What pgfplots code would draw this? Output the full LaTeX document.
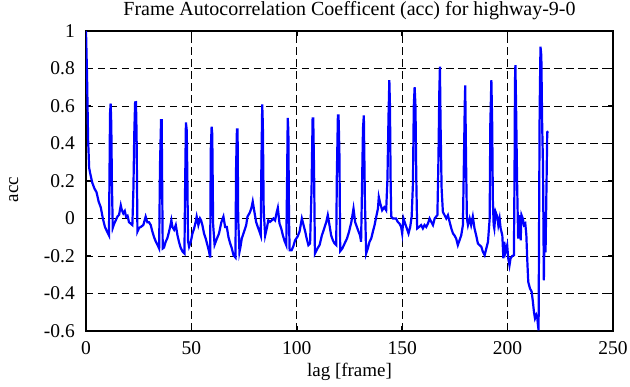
\documentclass[border=0pt]{standalone}
\usepackage{pgfplots}
\pgfplotsset{compat=1.18}
\usepackage{fontspec}
\setmainfont{Liberation Serif}
\begin{document}
\begin{tikzpicture}
\path[use as bounding box] (-86pt,-56pt) rectangle (544pt,331pt);
\begin{axis}[
  at={(0pt,0pt)}, anchor=south west,
  scale only axis, width=527pt, height=300pt,
  xmin=0, xmax=250, ymin=-0.6, ymax=1,
  xtick={0,50,100,150,200,250},
  xticklabels={0,50,100,150,200,250},
  ytick={-0.6,-0.4,-0.2,0,0.2,0.4,0.6,0.8,1},
  yticklabels={-0.6,-0.4,-0.2,0,0.2,0.4,0.6,0.8,1},
  grid=major,
  major grid style={black, line width=0.9pt, dash pattern=on 7.5pt off 4.5pt},
  tick align=inside, major tick length=5pt,
  tick style={black, line width=1.5pt},
  axis line style={black, line width=2.2pt},
  xticklabel style={font=\fontsize{19.5}{21}\selectfont, inner sep=0pt, anchor=base, yshift=-24pt},
  yticklabel style={font=\fontsize{19.5}{21}\selectfont, inner sep=0pt, anchor=east, xshift=-11pt},
  every axis title shift=0pt,
  title={Frame Autocorrelation Coefficent (acc) for highway-9-0},
  title style={font=\fontsize{20}{22}\selectfont, inner sep=0pt, anchor=base, at={(axis description cs:0.5,1)}, yshift=15pt},
  xlabel={lag [frame]},
  xlabel style={font=\fontsize{19}{21}\selectfont, inner sep=0pt, anchor=base, at={(axis description cs:0.5,0)}, yshift=-46pt},
  ylabel={acc},
  ylabel style={font=\fontsize{19}{21}\selectfont, inner sep=0pt, anchor=base, at={(axis description cs:-0.129,0.472)}},
]
\addplot[color={rgb,255:red,0;green,0;blue,255}, line width=2.2pt, mark=none] coordinates {
(0,1.0)(0.5,0.76)(1,0.42)(1.5,0.27)(2,0.24)(3,0.19)(4,0.16)(5,0.14)(6,0.09)(7,0.06)(8,0.0)(9,-0.045)(10,-0.07)(10.9,-0.09)
(11.4,0.56)(11.7,0.613)(12,0.5)(12.3,0.18)(12.7,-0.05)
(13.3,-0.03)(14.1,-0.01)(14.9,0.01)(15.7,0.02)(16.5,0.07)(17,0.045)(17.7,0.027)(18.4,0.04)(19,0.01)(19.7,0.015)(20.4,-0.02)(21.2,-0.027)(22,-0.035)
(22.5,0.16)(22.9,0.45)(23.3,0.619)(23.7,0.62)(24,0.45)(24.4,-0.07)
(25.2,-0.05)(26,-0.045)(27.2,-0.035)(28.3,0.01)(29.1,-0.02)(29.9,-0.02)(30.7,-0.035)(31.5,-0.07)(32.3,-0.1)(33,-0.12)(33.9,-0.14)(34.7,-0.16)
(35.1,0.28)(35.6,0.524)(35.9,0.524)(36.2,0.1)(36.4,-0.16)
(37,-0.155)(37.8,-0.124)(38.6,-0.105)(39.4,-0.07)(40,-0.04)(40.5,-0.01)(41,-0.045)(41.8,-0.06)(42.6,-0.035)(43.4,-0.09)(44.1,-0.124)(44.9,-0.156)(45.9,-0.178)(46.7,-0.187)
(47,0.15)(47.4,0.512)(47.8,0.47)(48.1,0.2)(48.4,-0.12)
(48.9,-0.15)(49.7,-0.124)(50.5,-0.08)(51.3,-0.053)(52,-0.02)(52.5,0.01)(53.3,-0.035)(54.1,0.0)(54.6,-0.01)(55.2,-0.035)(56,-0.08)(56.8,-0.107)(57.6,-0.142)(58.4,-0.178)(58.9,-0.208)
(59.2,0.37)(59.6,0.49)(59.9,0.45)(60.3,-0.03)
(61,-0.14)(62,-0.11)(63.1,-0.08)(64.2,-0.02)(65.2,0.01)(66,-0.045)(66.8,-0.045)(67.6,-0.1)(68.4,-0.133)(69.1,-0.156)(70,-0.196)(70.9,-0.208)
(71.2,0.27)(71.6,0.475)(71.9,0.475)(72.2,0.0)(72.8,-0.178)
(73.3,-0.15)(73.9,-0.107)(74.7,-0.08)(75.3,-0.06)(76,-0.035)(76.6,0.01)(77.5,0.027)(78,0.04)(78.6,0.062)(79.1,0.09)(79.9,0.035)(80.7,-0.018)(81.5,-0.045)(82.3,-0.07)(82.9,-0.09)
(83.2,0.28)(83.6,0.608)(83.9,0.5)(84.3,0.04)(85,-0.09)
(85.8,-0.05)(86.5,-0.01)(87.3,-0.018)(88.1,-0.01)(88.9,0.0)(89.7,-0.01)(90.5,0.035)(91,0.057)(91.8,-0.027)(92.6,-0.053)(93.4,-0.09)(94.2,-0.12)(95,-0.142)
(95.3,0.115)(95.7,0.537)(96,0.466)(96.3,0.0)(96.6,-0.17)
(97.5,-0.17)(98.3,-0.15)(99.2,-0.116)(100.3,-0.098)(101.3,-0.07)(102.4,0.0)(103.2,-0.035)(104,-0.07)(104.7,-0.107)(105.5,-0.142)(106.3,-0.133)
(107,0.16)(107.5,0.533)(107.8,0.533)(108.2,0.25)(108.6,-0.187)
(109.8,-0.16)(110.8,-0.142)(111.9,-0.09)(113,-0.053)(114,-0.018)(114.7,0.018)(115.5,-0.035)(116.3,-0.09)(117.1,-0.116)(117.9,-0.133)(118.7,-0.142)
(119,0.23)(119.5,0.55)(119.8,0.55)(120.2,0.36)(120.6,-0.174)
(121.6,-0.16)(122.7,-0.133)(123.8,-0.107)(124.8,-0.07)(125.9,-0.018)(126.9,0.053)(127.7,-0.02)(128.5,-0.045)(129.3,-0.07)(130,-0.09)(130.5,-0.124)
(130.9,0.14)(131.4,0.48)(131.8,0.55)(132.3,0.1)(132.9,-0.187)
(133.7,-0.16)(134.5,-0.124)(135.3,-0.107)(136.1,-0.07)(136.9,-0.035)(137.7,0.01)(138.5,0.053)(138.9,0.115)(139.6,0.08)(140.5,0.044)(141.5,0.06)(142.4,0.044)
(143,0.21)(143.5,0.54)(143.9,0.738)(144.2,0.6)(144.5,0.21)(144.8,0.01)
(145.6,0.0)(146.4,0.0)(147.1,0.0)(147.9,-0.018)(148.7,-0.027)(149.5,-0.045)(150,-0.08)(150.6,0.0)(151.4,-0.027)(152.2,-0.053)(153,-0.08)(153.8,-0.045)(154.5,0.01)
(155.1,0.187)(155.5,0.6)(155.9,0.70)(156.3,0.6)(156.7,0.2)(157.1,-0.053)
(158,-0.045)(159,-0.035)(159.8,-0.053)(160.6,-0.035)(161.4,-0.045)(162.2,-0.027)(163,0.0)(163.8,-0.018)(164.6,-0.035)(165.4,0.0)(166.1,0.01)(166.7,0.018)
(167.2,0.32)(167.6,0.67)(167.9,0.81)(168.2,0.5)(168.7,0.16)(169.3,0.035)
(170.1,0.018)(170.9,0.0)(171.7,0.018)(172.5,-0.018)(173.3,-0.053)(174.1,-0.08)(174.8,-0.09)(175.6,-0.107)(176.4,-0.142)(177.2,-0.116)(178,-0.09)(178.8,-0.035)
(179.3,0.32)(179.7,0.62)(179.9,0.71)(180.3,0.3)(180.7,0.0)
(181.2,-0.035)(182,0.0)(182.7,-0.035)(183.5,0.01)(184.3,-0.053)(185.1,-0.09)(185.9,-0.133)(186.7,-0.142)(187.5,-0.15)(188.3,-0.178)(189.1,-0.196)(189.9,-0.16)(190.7,-0.124)
(191.5,0.0)(191.8,0.5)(192.3,0.738)(192.7,0.5)(193,0.1)(193.4,-0.035)
(193.7,-0.053)(194.3,0.035)(195.1,0.01)(195.6,-0.035)(196.2,0.0)(196.7,-0.053)(197.5,-0.09)(198,-0.213)(198.4,-0.124)(199,-0.178)(199.8,-0.142)(200.3,-0.213)(200.9,-0.25)(201.4,-0.213)(202.2,-0.2)(203,-0.196)
(203.3,0.26)(203.5,0.73)(203.7,0.818)(204,0.62)(204.5,0.2)(205,-0.107)
(205.7,0.018)(206.2,-0.116)(206.6,0.018)(207.2,0.0)(207.8,-0.035)(208.4,-0.027)(208.9,-0.09)(209.3,-0.213)(209.8,-0.338)(210.6,-0.373)(211.4,-0.39)(212,-0.444)(212.5,-0.498)(213,-0.533)(213.6,-0.515)(214.1,-0.533)(214.4,-0.569)(214.7,-0.596)
(214.9,-0.12)(215.2,0.57)(215.6,0.916)(216,0.87)(216.4,0.5)(216.8,0.28)(217.2,-0.33)(217.6,0.035)(218,-0.18)(218.5,0.21)(218.8,0.46)(219.3,0.465)
};
\end{axis}
\end{tikzpicture}
\end{document}
